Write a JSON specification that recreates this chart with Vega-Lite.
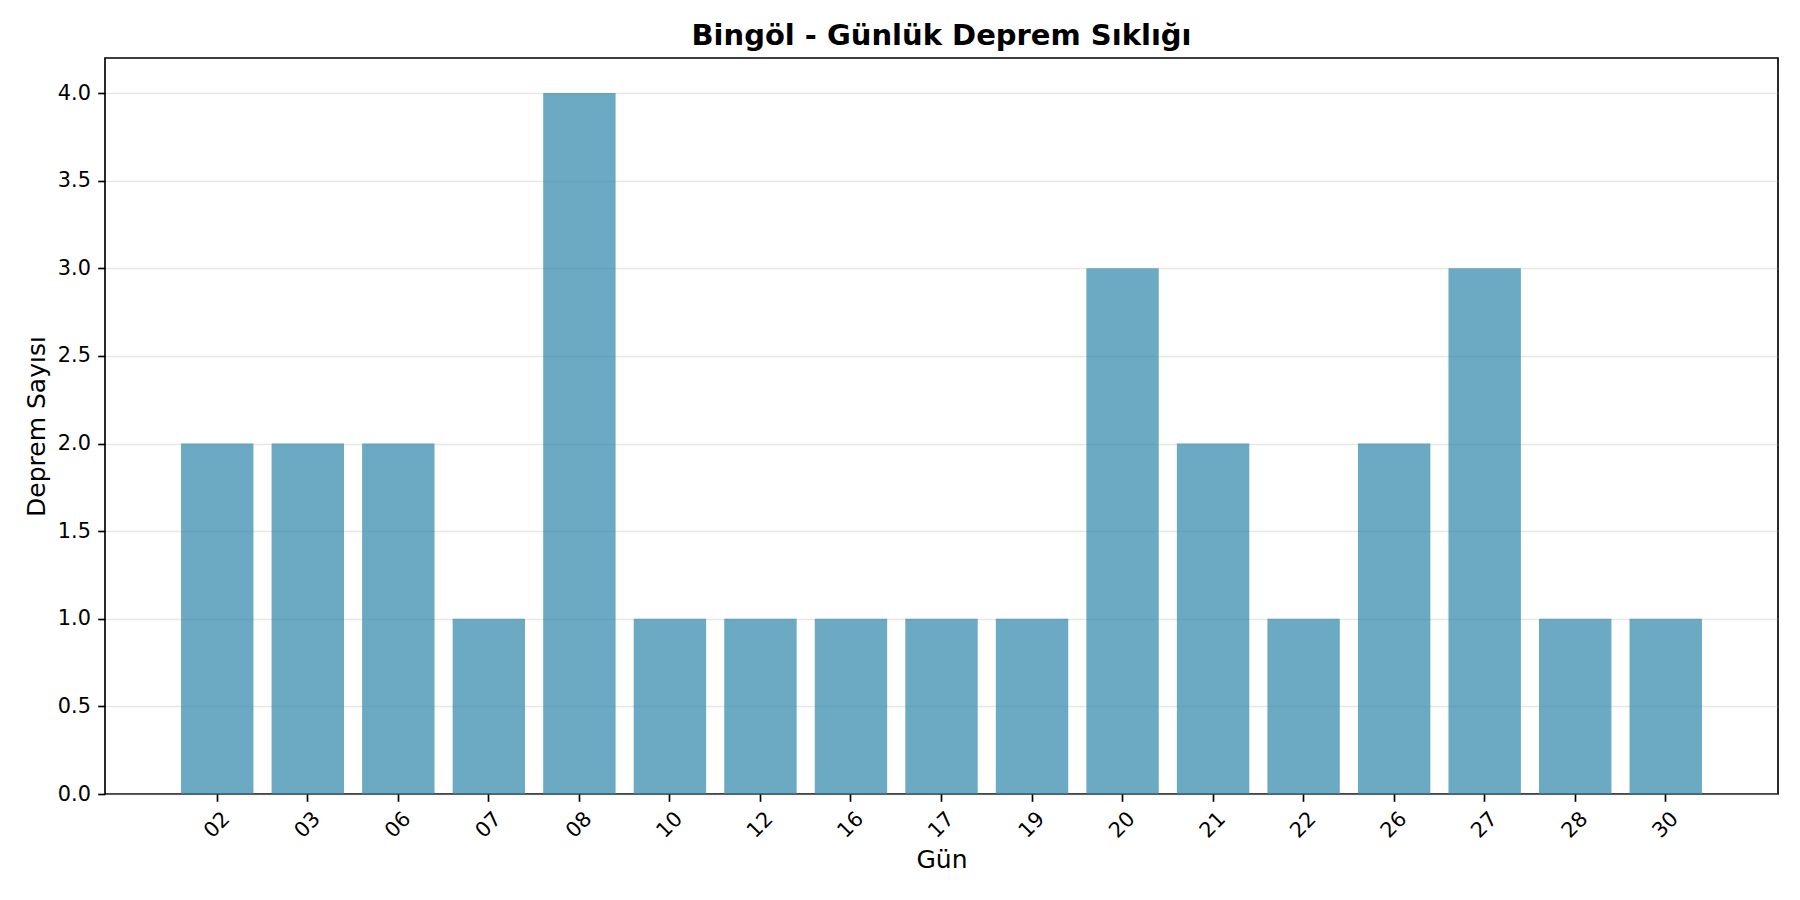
{
  "$schema": "https://vega.github.io/schema/vega-lite/v6.json",
  "autosize": "none",
  "width": 1673,
  "height": 736,
  "padding": {"left": 105, "top": 58, "right": 22, "bottom": 106},
  "background": "white",
  "title": {
    "text": "Bingöl - Günlük Deprem Sıklığı",
    "font": "DejaVu Sans",
    "fontSize": 29,
    "fontWeight": "bold",
    "color": "#000000",
    "offset": 12,
    "baseline": "alphabetic",
    "dy": 28
  },
  "config": {
    "view": {"stroke": "#000000", "strokeWidth": 1.67},
    "axis": {
      "labelFont": "DejaVu Sans",
      "titleFont": "DejaVu Sans",
      "labelFontSize": 20.8,
      "titleFontSize": 25,
      "titleFontWeight": "normal",
      "labelColor": "#000000",
      "titleColor": "#000000",
      "tickColor": "#000000",
      "tickWidth": 1.67,
      "tickSize": 7.3,
      "domain": false
    }
  },
  "data": {
    "values": [
      {"gun": "02", "sayi": 2},
      {"gun": "03", "sayi": 2},
      {"gun": "06", "sayi": 2},
      {"gun": "07", "sayi": 1},
      {"gun": "08", "sayi": 4},
      {"gun": "10", "sayi": 1},
      {"gun": "12", "sayi": 1},
      {"gun": "16", "sayi": 1},
      {"gun": "17", "sayi": 1},
      {"gun": "19", "sayi": 1},
      {"gun": "20", "sayi": 3},
      {"gun": "21", "sayi": 2},
      {"gun": "22", "sayi": 1},
      {"gun": "26", "sayi": 2},
      {"gun": "27", "sayi": 3},
      {"gun": "28", "sayi": 1},
      {"gun": "30", "sayi": 1}
    ]
  },
  "mark": {"type": "bar", "color": "#2E86AB", "opacity": 0.7},
  "encoding": {
    "x": {
      "field": "gun",
      "type": "ordinal",
      "sort": null,
      "scale": {"paddingInner": 0.2, "paddingOuter": 0.84},
      "axis": {
        "title": "Gün",
        "labelAngle": -45,
        "labelAlign": "center",
        "labelBaseline": "middle",
        "labelPadding": 23.5,
        "titlePadding": 6,
        "grid": false
      }
    },
    "y": {
      "field": "sayi",
      "type": "quantitative",
      "scale": {"domain": [0, 4.2], "nice": false, "zero": true},
      "axis": {
        "title": "Deprem Sayısı",
        "values": [0, 0.5, 1, 1.5, 2, 2.5, 3, 3.5, 4],
        "format": ".1f",
        "labelPadding": 7.3,
        "titlePadding": 8,
        "grid": true,
        "gridColor": "#b0b0b0",
        "gridOpacity": 0.3,
        "gridWidth": 1.67
      }
    }
  }
}
